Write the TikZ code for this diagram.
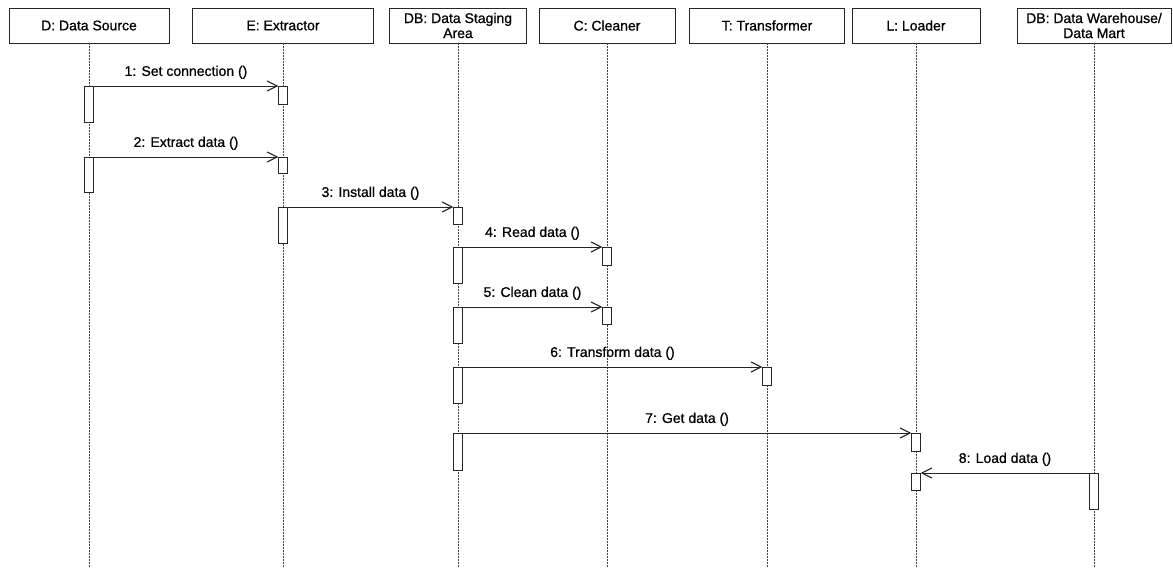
\documentclass[tikz,border=0pt]{standalone}
\usepackage{fontspec}
\setmainfont{Liberation Sans}
\newfontfamily\scanfont{Liberation Sans}[FakeBold=0.8]
\usetikzlibrary{arrows.meta}

\begin{document}
\begin{tikzpicture}[x=1pt,y=-1pt,
  obj/.style={draw=black!85, thin, minimum height=35pt, align=center, inner sep=1pt, font=\scanfont\fontsize{14}{15}\selectfont},
  life/.style={draw=black!75, thin, dash pattern=on 1.5pt off 1.5pt},
  act/.style={draw=black!85, thin, fill=white, minimum width=9pt, inner sep=0pt, anchor=north},
  msg/.style={draw=black!85, thin, -{Straight Barb[length=10pt,width=10pt,line width=1.1pt]}},
  lbl/.style={above=5pt, inner sep=2pt, midway, font=\scanfont\fontsize{14}{15}\selectfont}]

\useasboundingbox (0,0) rectangle (1173,568);
\coordinate (end) at (0,568);

% objects
\node[obj, minimum width=160pt] (ds) at (89,25.5) {D: Data Source};
\node[obj, minimum width=181pt] (ex) at (283,25.5) {E: Extractor};
\node[obj, minimum width=137pt] (st) at (458,25.5) {DB: Data Staging\\Area};
\node[obj, minimum width=136pt] (cl) at (607,25.5) {C: Cleaner};
\node[obj, minimum width=155pt] (tr) at (767,25.5) {T: Transformer};
\node[obj, minimum width=128pt] (lo) at (916,25.5) {L: Loader};
\node[obj, minimum width=154pt] (dw) at (1094,25.5) {DB: Data Warehouse/\\Data Mart};

% lifelines
\foreach \o in {ds,ex,st,cl,tr,lo,dw}
  \draw[life] (\o.south) -- (\o.south |- end);

% activations
\node[act, minimum height=36pt] (s1) at (89,86) {};
\node[act, minimum height=18pt] (t1) at (283,86) {};
\node[act, minimum height=35pt] (s2) at (89,157) {};
\node[act, minimum height=16pt] (t2) at (283,157) {};
\node[act, minimum height=36pt] (s3) at (283,207) {};
\node[act, minimum height=17pt] (t3) at (458,207) {};
\node[act, minimum height=36pt] (s4) at (458,247) {};
\node[act, minimum height=18pt] (t4) at (607,247) {};
\node[act, minimum height=36pt] (s5) at (458,307) {};
\node[act, minimum height=17pt] (t5) at (607,307) {};
\node[act, minimum height=36pt] (s6) at (458,367) {};
\node[act, minimum height=18pt] (t6) at (767,367) {};
\node[act, minimum height=37pt] (s7) at (458,433) {};
\node[act, minimum height=18pt] (t7) at (916,433) {};
\node[act, minimum height=36pt] (s8) at (1094,473) {};
\node[act, minimum height=17pt] (t8) at (916,473) {};

% messages
\draw[msg] (s1.north east) -- node[lbl]{1: Set connection ()} (t1.north west);
\draw[msg] (s2.north east) -- node[lbl]{2: Extract data ()} (t2.north west);
\draw[msg] (s3.north east) -- node[lbl]{3: Install data ()} (t3.north west);
\draw[msg] (s4.north east) -- node[lbl]{4: Read data ()} (t4.north west);
\draw[msg] (s5.north east) -- node[lbl]{5: Clean data ()} (t5.north west);
\draw[msg] (s6.north east) -- node[lbl]{6: Transform data ()} (t6.north west);
\draw[msg] (s7.north east) -- node[lbl]{7: Get data ()} (t7.north west);
\draw[msg] (s8.north west) -- node[lbl]{8: Load data ()} (t8.north east);
\end{tikzpicture}
\end{document}
